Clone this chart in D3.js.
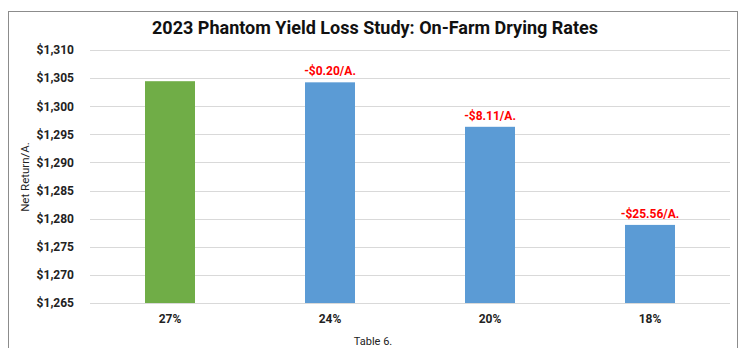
<!DOCTYPE html>
<html><head><meta charset="utf-8">
<script src="https://cdn.jsdelivr.net/npm/d3@7"></script>
<style>body{margin:0;background:#fff;font-family:Roboto,Arial,sans-serif;}</style>
</head><body>
<svg id="c" width="743" height="348"></svg>
<script>
const categories = ["27%", "24%", "20%", "18%"];
const values = [1304.45, 1304.25, 1296.34, 1278.89];
const diffLabels = ["", "-$0.20/A.", "-$8.11/A.", "-$25.56/A."];
const barColors = ["#70AD47", "#5B9BD5", "#5B9BD5", "#5B9BD5"];
const yTicks = [1265, 1270, 1275, 1280, 1285, 1290, 1295, 1300, 1305, 1310];

const svg = d3.select("#c");
svg.append("rect").attr("x", 8.5).attr("y", 11.5).attr("width", 729).attr("height", 345)
  .attr("fill", "#fff").attr("stroke", "#8c8c8c").attr("stroke-width", 1);

const m = {l: 90, r: 730, t: 50, b: 303};
const x = d3.scaleBand().domain(categories).range([m.l, m.r]).paddingInner(0.6875).paddingOuter(0.34375);
const y = d3.scaleLinear().domain([1265, 1310]).range([m.b, m.t]);

svg.append("g").selectAll("line").data(yTicks).join("line")
  .attr("x1", m.l).attr("x2", m.r).attr("y1", d => Math.round(y(d)) + 0.5).attr("y2", d => Math.round(y(d)) + 0.5)
  .attr("stroke", "#d9d9d9").attr("stroke-width", 1);

const yAxis = svg.append("g").attr("transform", `translate(${m.l},0)`)
  .call(d3.axisLeft(y).tickValues(yTicks).tickSize(0).tickPadding(16).tickFormat(d => "$" + d3.format(",")(d)));
yAxis.select(".domain").remove();
yAxis.selectAll("text").attr("font-family", "Roboto").attr("font-weight", "bold").attr("font-size", 12).attr("fill", "#222");

svg.append("g").selectAll("rect").data(categories).join("rect")
  .attr("x", d => x(d)).attr("width", x.bandwidth())
  .attr("y", (d, i) => y(values[i])).attr("height", (d, i) => y(1265) - y(values[i]))
  .attr("fill", (d, i) => barColors[i]);

const xAxis = svg.append("g").attr("transform", `translate(0,${m.b})`)
  .call(d3.axisBottom(x).tickSize(0).tickPadding(11));
xAxis.select(".domain").remove();
xAxis.selectAll("text").attr("font-family", "Roboto").attr("font-weight", "bold").attr("font-size", 12).attr("fill", "#222");

svg.append("g").selectAll("text").data(categories).join("text")
  .attr("x", d => x(d) + x.bandwidth() / 2).attr("y", (d, i) => y(values[i]) - 7)
  .attr("text-anchor", "middle").attr("font-family", "Roboto").attr("font-weight", "bold")
  .attr("font-size", 12).attr("fill", "#FF0000").text((d, i) => diffLabels[i]);

svg.append("text").attr("x", 375).attr("y", 34).attr("text-anchor", "middle")
  .attr("font-family", "Roboto").attr("font-weight", "bold").attr("font-size", 18).attr("fill", "#111")
  .text("2023 Phantom Yield Loss Study: On-Farm Drying Rates");

svg.append("text").attr("transform", "translate(29,177) rotate(-90)").attr("text-anchor", "middle")
  .attr("font-family", "Roboto").attr("font-size", 11.5).attr("fill", "#222").text("Net Return/A.");

svg.append("text").attr("x", 373).attr("y", 345).attr("text-anchor", "middle")
  .attr("font-family", "Roboto").attr("font-size", 11).attr("fill", "#222").text("Table 6.");
</script>
</body></html>
